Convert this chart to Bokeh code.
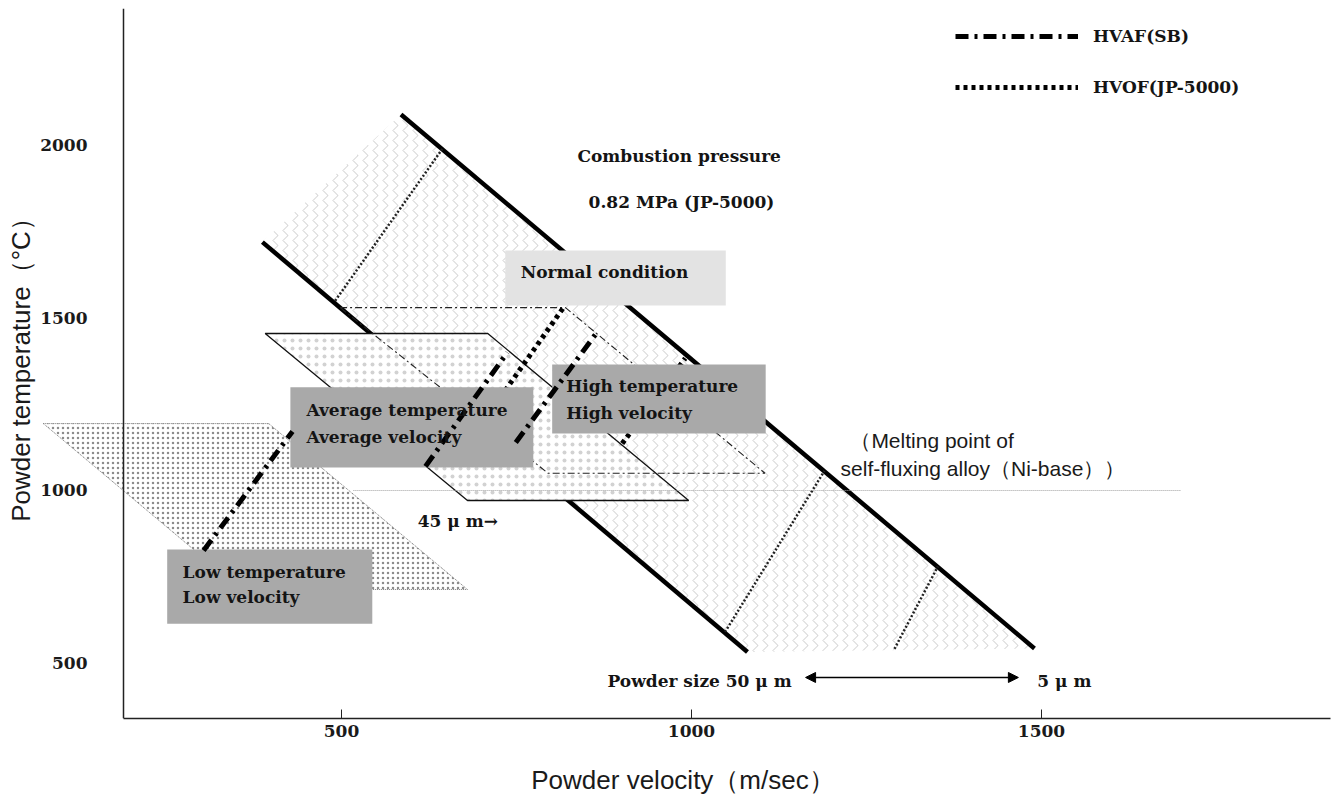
from bokeh.plotting import figure
from bokeh.models import (Range1d, FixedTicker, Legend, LegendItem, Arrow, NormalHead,
                          LinearAxis)
from bokeh.core.properties import value
from bokeh.embed import file_html
from bokeh.resources import INLINE

# ---------------- data (velocity m/sec, temperature degC) ----------------
x_ticks = [500, 1000, 1500]
y_ticks = [500, 1000, 1500, 2000]

# JP-5000 operating band (stippled)
band_x = [387, 585, 1490, 1080]
band_y = [1720, 2090, 542, 532]
# thick band edges
edge_xs = [[585, 1490], [387, 1080]]
edge_ys = [[2090, 542], [1720, 532]]
# JP-5000 dotted powder-size lines inside band
jp_xs = [[491, 644], [1048, 1190], [1290, 1352]]
jp_ys = [[1550, 1990], [590, 1057], [541, 780]]

# condition regions (parallelograms)
normal_x = [498, 820, 1105, 795]
normal_y = [1530, 1530, 1050, 1050]
avg_x = [391, 709, 996, 680]
avg_y = [1455, 1455, 971, 971]
low_x = [74, 396, 680, 357]
low_y = [1194, 1194, 713, 713]

# melting point of self-fluxing alloy
melt_x = [517, 1699]
melt_y = [1000, 1000]

# HVAF(SB) and HVOF(JP-5000) trajectories
hvaf_xs = [[303, 430], [620, 737], [749, 867]]
hvaf_ys = [[826, 1171], [1070, 1400], [1139, 1464]]
hvof_xs = [[734, 817], [901, 991]]
hvof_ys = [[1290, 1530], [1136, 1383]]

# label boxes
box_left = [734, 427, 801, 251]
box_right = [1049, 774, 1106, 544]
box_top = [1696, 1299, 1365, 829]
box_bottom = [1536, 1067, 1165, 614]
box_fill = ["#e3e3e3", "#a9a9a9", "#a9a9a9", "#a9a9a9"]

box_text = ["Normal condition",
            "Average temperature", "Average velocity",
            "High temperature", "High velocity",
            "Low temperature", "Low velocity"]
box_text_x = [756, 450, 450, 821, 821, 273, 273]
box_text_y = [1632, 1232, 1154, 1304, 1226, 765, 690]

annot_text = ["Combustion pressure", "0.82 MPa (JP-5000)", "45 \u03bc m\u2192",
              "Powder size 50 \u03bc m", "5 \u03bc m"]
annot_x = [837, 853, 609, 880, 1494]
annot_y = [1971, 1835, 913, 449, 449]

melt_text = ["\uff08Melting point of", "self-fluxing alloy\uff08Ni-base\uff09\uff09"]
melt_text_x = [1227, 1213]
melt_text_y = [1145, 1064]

arrow_x = [1163, 1467]
arrow_y = 458

x_lo, x_hi = 62.86, 1912.9
y_lo, y_hi = 339.1, 2397.1
y_axis_at = 188.6

# ---------------- figure ----------------
p = figure(width=1340, height=802, output_backend="svg", toolbar_location=None,
           x_range=Range1d(x_lo, x_hi), y_range=Range1d(y_lo, y_hi),
           min_border_left=35, min_border_right=10, min_border_top=8,
           min_border_bottom=84)
p.outline_line_color = None
p.grid.visible = False
p.background_fill_color = "white"

serif = "DejaVu Serif"
sans = "Liberation Sans"

# x axis
xa = p.xaxis[0]
xa.ticker = FixedTicker(ticks=x_ticks)
xa.bounds = (y_axis_at, x_hi)
xa.major_tick_in = 9
xa.major_tick_out = 0
xa.minor_tick_in = 0
xa.minor_tick_out = 0
xa.major_label_standoff = 6
xa.major_label_text_font = serif
xa.major_label_text_font_style = "bold"
xa.major_label_text_font_size = "17px"
xa.major_label_text_color = "#1a1a1a"
xa.axis_line_width = 1.5
xa.axis_line_color = "#222222"
xa.major_tick_line_color = "#222222"
xa.axis_label = "Powder velocity\uff08m/sec\uff09"
xa.axis_label_text_font = sans
xa.axis_label_text_font_style = "normal"
xa.axis_label_text_font_size = "26px"
xa.axis_label_text_color = "#1a1a1a"
xa.axis_label_standoff = 25

# y axis (drawn at velocity = y_axis_at, inside the frame)
ya = p.yaxis[0]
ya.ticker = FixedTicker(ticks=y_ticks)
ya.fixed_location = y_axis_at
ya.major_tick_in = 0
ya.major_tick_out = 0
ya.minor_tick_in = 0
ya.minor_tick_out = 0
ya.major_label_standoff = 36
ya.major_label_text_font = serif
ya.major_label_text_font_style = "bold"
ya.major_label_text_font_size = "17px"
ya.major_label_text_color = "#1a1a1a"
ya.axis_line_width = 1.5
ya.axis_line_color = "#222222"

# y axis title (carried by a label-only axis at the left edge)
ytitle = LinearAxis(ticker=FixedTicker(ticks=[]), axis_line_alpha=0,
                    major_tick_in=0, major_tick_out=0, minor_tick_in=0,
                    minor_tick_out=0, major_label_text_font_size="0px",
                    axis_label="Powder temperature\uff08\u00b0C\uff09",
                    axis_label_text_font=sans, axis_label_text_font_style="normal",
                    axis_label_text_font_size="26px", axis_label_text_color="#1a1a1a",
                    axis_label_standoff=0)
p.add_layout(ytitle, "left")

# ---------------- regions ----------------
p.patch(band_x, band_y, fill_color="white", line_color=None,
        hatch_pattern="vertical_wave", hatch_color="#8f8f8f", hatch_alpha=0.6,
        hatch_scale=10, hatch_weight=0.8)
p.patch(low_x, low_y, fill_color="white", line_color="#777777", line_width=1,
        line_dash="1 1", hatch_pattern="dot", hatch_color="#8c8c8c",
        hatch_scale=5, hatch_weight=1)

p.multi_line(edge_xs, edge_ys, line_color="black", line_width=4.5)
p.multi_line(jp_xs, jp_ys, line_color="#222222", line_width=2.5, line_dash="2 2")

p.patch(avg_x, avg_y, fill_color="white", line_color="#111111", line_width=1.3,
        hatch_pattern="dot", hatch_color="#d2d2d2", hatch_scale=8, hatch_weight=1)
p.line(melt_x, melt_y, line_color="#a0a0a0", line_width=1, line_dash="1 1")
p.patch(normal_x, normal_y, fill_alpha=0, line_color="#222222", line_width=1.1,
        line_dash="7 3 2 3")

hvof = p.multi_line(hvof_xs, hvof_ys, line_color="black", line_width=5,
                    line_dash="4 4")

p.quad(left=box_left, right=box_right, top=box_top, bottom=box_bottom,
       fill_color=box_fill, line_color=None)

hvaf = p.multi_line(hvaf_xs, hvaf_ys, line_color="black", line_width=5,
                    line_dash="13 6 3 6")

# ---------------- texts ----------------
p.text(box_text_x, box_text_y, text=box_text, text_font=value(serif),
       text_font_style="bold", text_font_size="17px", text_color="#141414",
       text_baseline="middle", text_align="left")
p.text(annot_x, annot_y, text=annot_text, text_font=value(serif),
       text_font_style="bold", text_font_size="17px", text_color="#141414",
       text_baseline="middle", text_align="left")
p.text(melt_text_x, melt_text_y, text=melt_text, text_font=value(sans),
       text_font_size="21px", text_color="#1a1a1a",
       text_baseline="middle", text_align="left")

p.add_layout(Arrow(start=NormalHead(size=10, fill_color="black", line_color="black"),
                   end=NormalHead(size=10, fill_color="black", line_color="black"),
                   x_start=arrow_x[0], y_start=arrow_y, x_end=arrow_x[1], y_end=arrow_y,
                   line_width=1.5, line_color="black"))

legend = Legend(items=[LegendItem(label="HVAF(SB)", renderers=[hvaf]),
                       LegendItem(label="HVOF(JP-5000)", renderers=[hvof])],
                location=(920, 620), padding=0, spacing=29, margin=0,
                glyph_width=123, glyph_height=22, label_height=22,
                label_standoff=15, border_line_alpha=0, background_fill_alpha=0,
                label_text_font=serif, label_text_font_style="bold",
                label_text_font_size="17px", label_text_color="#141414")
p.add_layout(legend)

open("out.html", "w").write(file_html(p, INLINE))
